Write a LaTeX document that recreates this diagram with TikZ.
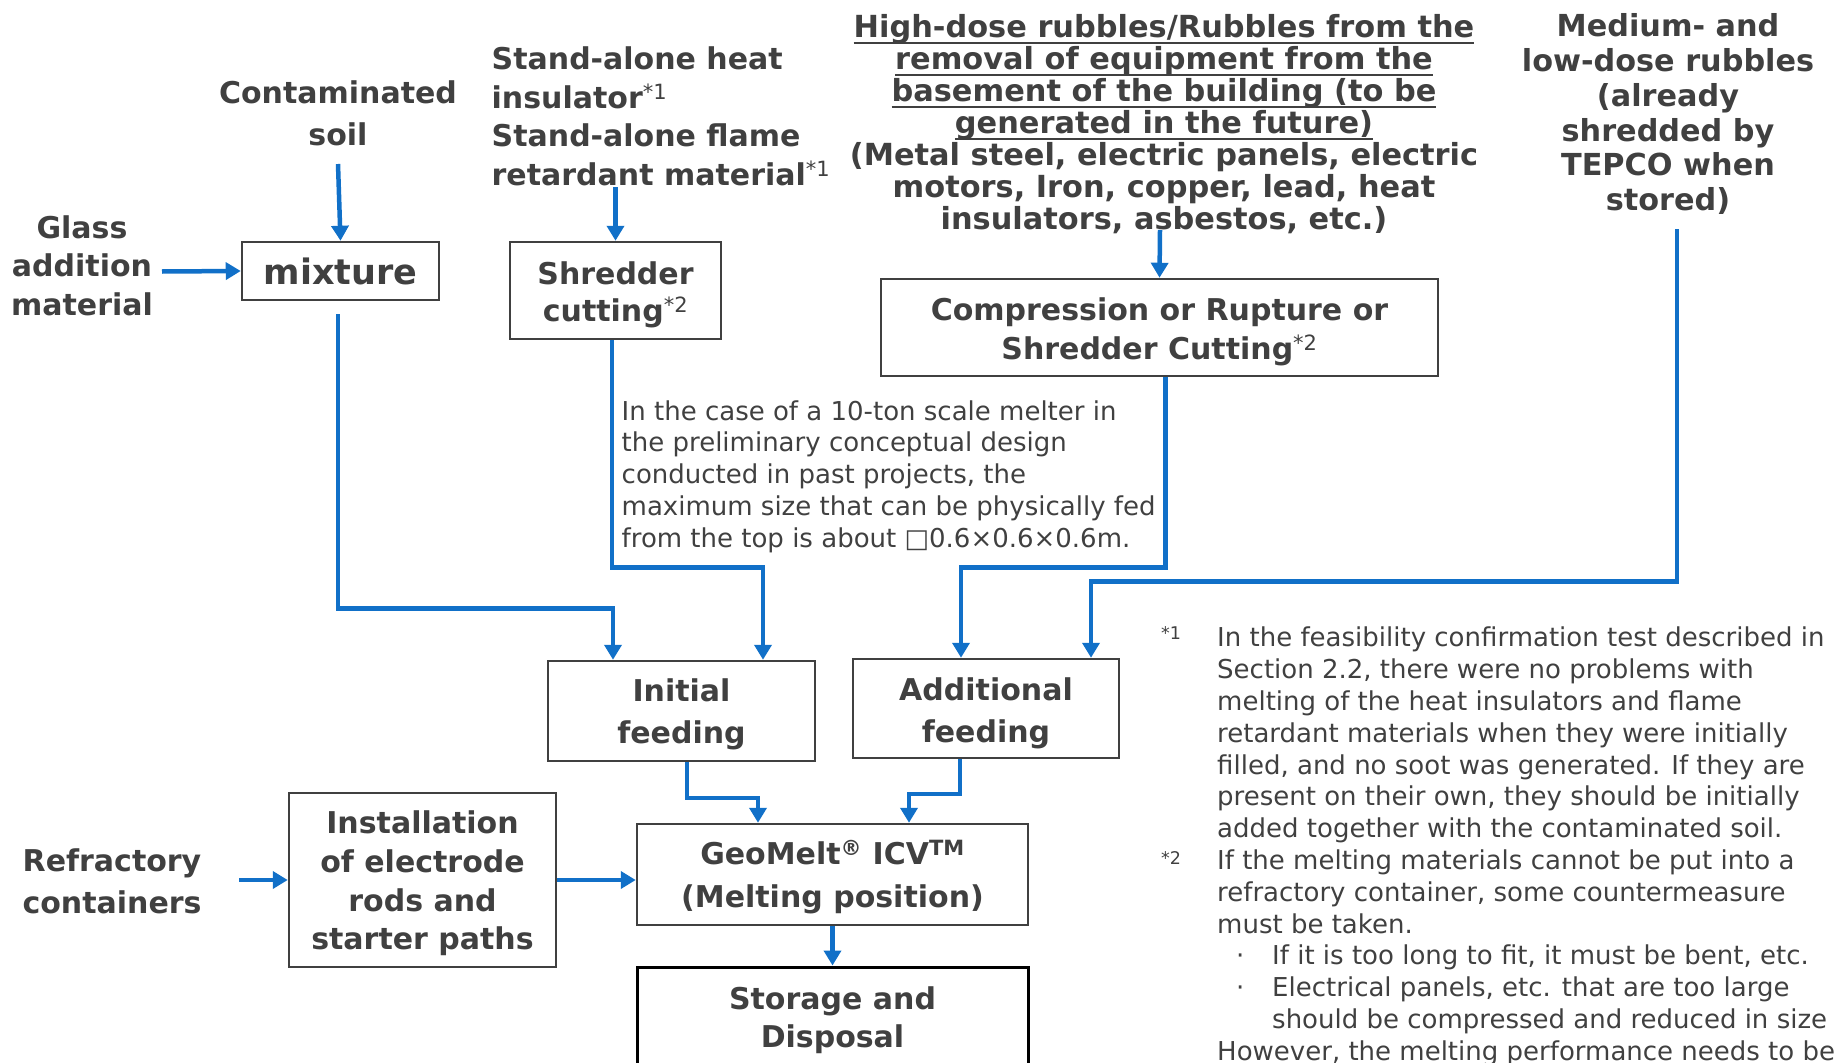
\documentclass[tikz,border=0pt]{standalone}
\usepackage{fontspec}
\setmainfont{DejaVu Sans}
\usetikzlibrary{arrows.meta,calc}

\definecolor{txtgray}{HTML}{404040}
\definecolor{boxgray}{HTML}{404040}
\definecolor{flowblue}{HTML}{1170C8}

\newcommand{\hdfont}[2]{\fontsize{#1}{#2}\selectfont\bfseries}
\newcommand{\txfont}[2]{\fontsize{#1}{#2}\selectfont}
\newcommand{\fnmark}[1]{\textsuperscript{\mdseries *#1}}
\newcommand{\ulline}[1]{\setbox0\hbox{#1}\rlap{\rule[-7pt]{\wd0}{2pt}}\box0}
\newcommand{\topsp}[1]{\rule{0pt}{#1pt}}% pushes box text down a little

\tikzset{
  box/.style={draw=boxgray, line width=2.5pt, align=center, text=txtgray, inner sep=0pt},
  lbl/.style={align=center, text=txtgray, inner sep=0pt},
  flow/.style={draw=flowblue, line width=4.5pt, -{Triangle[length=15pt,width=17pt]}}
}

\begin{document}
\begin{tikzpicture}[x=1pt,y=-1pt]
  \useasboundingbox (0,0) rectangle (1835,1062);

  % sources
  \node[lbl, font=\hdfont{30}{42}] (soil) at (338,113.5) {Contaminated\\soil};
  \node[lbl, align=left, anchor=west, font=\hdfont{30}{38.6}] (stand) at (491.5,116.5)
      {Stand-alone heat\\insulator\fnmark{1}\\Stand-alone flame\\retardant material\fnmark{1}};
  \node[lbl, font=\hdfont{30}{38.6}] (glass) at (82,265.7) {Glass\\addition\\material};
  \node[lbl, font=\hdfont{30.4}{32}] (dose) at (1164,124)
      {\ulline{High-dose rubbles/Rubbles from the}\\
       \ulline{removal of equipment from the}\\
       \ulline{basement of the building (to be}\\
       \ulline{generated in the future)}\\
       (Metal steel, electric panels, electric\\
       motors, Iron, copper, lead, heat\\
       insulators, asbestos, etc.)};
  \node[lbl, font=\hdfont{30.3}{34.7}] (medium) at (1668,114.2)
      {Medium- and\\low-dose rubbles\\(already\\shredded by\\TEPCO when\\stored)};
  \node[lbl, font=\hdfont{30}{42}] (refr) at (112,881) {Refractory\\containers};

  % process boxes
  \node[box, minimum width=197pt, minimum height=58pt, font=\hdfont{35}{42}] (mix) at (340.5,271) {mixture};
  \node[box, minimum width=211pt, minimum height=97pt, font=\hdfont{30}{37.5}] (shred) at (615.5,290.5)
      {\topsp{31}Shredder\\cutting\fnmark{2}};
  \node[box, minimum width=557pt, minimum height=97pt, font=\hdfont{30}{38.6}] (comp) at (1159.5,327.5)
      {\topsp{31}Compression or Rupture or\\Shredder Cutting\fnmark{2}};
  \node[box, minimum width=267pt, minimum height=100pt, font=\hdfont{30}{42}] (init) at (681.5,711)
      {\topsp{30}Initial\\feeding};
  \node[box, minimum width=266pt, minimum height=99pt, font=\hdfont{30}{42}] (addl) at (986,708.5)
      {\topsp{32}Additional\\feeding};
  \node[box, minimum width=267pt, minimum height=174pt, font=\hdfont{30}{38.6}] (inst) at (422.5,880)
      {\topsp{30}Installation\\of electrode\\rods and\\starter paths};
  \node[box, minimum width=391pt, minimum height=101pt, font=\hdfont{30}{43}] (geo) at (832.5,874.5)
      {\topsp{30}GeoMelt\textsuperscript{®} ICV\textsuperscript{TM}\\(Melting position)};
  \node[box, draw=black, line width=3pt, minimum width=391pt, minimum height=101pt, font=\hdfont{30}{38.6}] (store) at (832.5,1017.5)
      {\topsp{28}Storage and\\Disposal};

  % notes
  \node[lbl, align=left, anchor=west, font=\txfont{26}{31.8}] (note) at (621.5,476.6)
      {In the case of a 10-ton scale melter in\\the preliminary conceptual design\\conducted in past projects, the\\maximum size that can be physically fed\\from the top is about □0.6×0.6×0.6m.};
  \node[lbl, anchor=west, font=\txfont{17.5}{20}] (fn1) at (1161,633) {*1};
  \node[lbl, anchor=west, font=\txfont{17.5}{20}] (fn2) at (1161,858) {*2};
  \node[lbl, align=left, anchor=west, font=\txfont{26}{31.8}] (fntext) at (1217,846.4)
      {In the feasibility confirmation test described in\\
       Section 2.2, there were no problems with\\
       melting of the heat insulators and flame\\
       retardant materials when they were initially\\
       filled, and no soot was generated. If they are\\
       present on their own, they should be initially\\
       added together with the contaminated soil.\\
       If the melting materials cannot be put into a\\
       refractory container, some countermeasure\\
       must be taken.\\
       \makebox[55pt][l]{\hspace*{19pt}·}If it is too long to fit, it must be bent, etc.\\
       \makebox[55pt][l]{\hspace*{19pt}·}Electrical panels, etc. that are too large\\
       \hspace*{55pt}should be compressed and reduced in size\\
       However, the melting performance needs to be};

  % free ends and bends
  \coordinate (s1) at (338,164);
  \coordinate (g1) at (162,271.5);
  \coordinate (st1) at (615.5,187);
  \coordinate (hd1) at (1160,230);
  \coordinate (md1) at (1677,229);
  \coordinate (r1) at (239,880);
  \coordinate (m1) at (338,314);
  \coordinate (b5) at (613,608.5);
  \coordinate (b6) at (612,567.5);
  \coordinate (c6) at (763,567.5);
  \coordinate (b7) at (1165.5,567.5);
  \coordinate (c7) at (961,567.5);
  \coordinate (c8) at (1091,581.6);
  \coordinate (b9) at (687,798);
  \coordinate (c9) at (758,798);
  \coordinate (b10) at (960,794);
  \coordinate (c10) at (909,794);

  % flows
  \draw[flow] (s1) -- (mix.north);
  \draw[flow] (g1) -- (mix.west);
  \draw[flow] (st1) -- (shred.north);
  \draw[flow] (hd1) -- (comp.north);
  \draw[flow] (m1) |- (b5) -- (b5 |- init.north);
  \draw[flow] (shred.south -| b6) -- (b6) -- (c6) -- (c6 |- init.north);
  \draw[flow] (comp.south -| b7) -- (b7) -- (c7) -- (c7 |- addl.north);
  \draw[flow] (md1) |- (c8) -- (c8 |- addl.north);
  \draw[flow] (init.south -| b9) -- (b9) -- (c9) -- (c9 |- geo.north);
  \draw[flow] (addl.south -| b10) -- (b10) -- (c10) -- (c10 |- geo.north);
  \draw[flow] (r1) -- (inst.west);
  \draw[flow] (inst.east) -- (inst.east -| geo.west);
  \draw[flow] (geo.south) -- (store.north);
\end{tikzpicture}
\end{document}
